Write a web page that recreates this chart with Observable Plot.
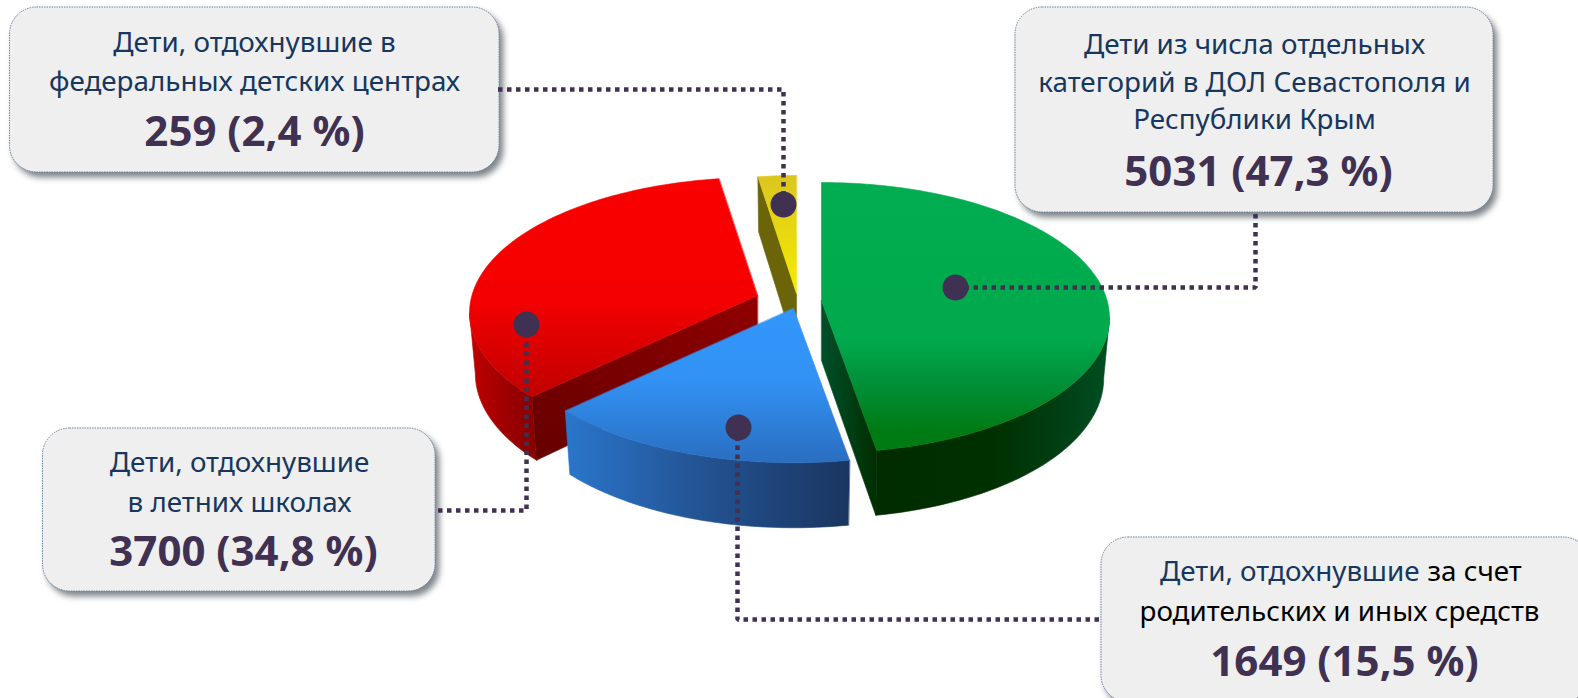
<!DOCTYPE html>
<html lang="ru">
<head>
<meta charset="utf-8">
<title>Дети, отдохнувшие</title>
<script src="https://cdn.jsdelivr.net/npm/d3@7"></script>
<script src="https://cdn.jsdelivr.net/npm/@observablehq/plot@0.6"></script>
<style>
html,body{margin:0;padding:0;background:#fff;overflow:hidden}
svg{display:block}
g[aria-label="rect"] rect{filter:drop-shadow(4px 5px 3px rgba(40,50,60,.6))}
</style>
</head>
<body>
<div id="chart"></div>
<script>
// ---------- data ----------
const categories = ["Отдельные категории в ДОЛ", "Родительские и иные средства", "Летние школы", "Федеральные детские центры"];
const sliceNames = ["green", "blue", "red", "yellow"];
const values = [5031, 1649, 3700, 259];

const boxX1 = [9.5, 1015, 42.5, 1101];
const boxX2 = [499, 1493, 435, 1590];
const boxY1 = [7, 7, 428, 537];
const boxY2 = [172, 212, 591, 702];

const labelText = [
  "Дети, отдохнувшие в", "федеральных детских центрах", "259 (2,4 %)",
  "Дети из числа отдельных", "категорий в ДОЛ Севастополя и", "Республики Крым", "5031 (47,3 %)",
  "Дети, отдохнувшие", "в летних школах", "3700 (34,8 %)",
  "Дети, отдохнувшие", "за счет", "родительских и иных средств", "1649 (15,5 %)"
];
const labelX = [254, 254, 254, 1254, 1254, 1254, 1258, 239, 239, 243, 1419, 1427, 1339, 1344];
const labelY = [43, 82, 132, 45, 83, 120, 172, 463, 503, 552, 572, 572, 612, 662];
const labelKind = ["t", "t", "b", "t", "t", "t", "b", "t", "t", "b", "e", "s", "k", "b"];

const dotX = [955, 738, 526, 783];
const dotY = [287, 427, 324, 204];
const leaderX = [[955, 1255, 1255], [737, 737, 1100], [526, 526, 433], [783, 783, 497]];
const leaderY = [[287, 287, 213], [427, 619, 619], [324, 510, 510], [204, 89, 89]];

// ---------- pie projection ----------
const sliceApex = {green: [821, 300], blue: [793, 308], red: [757, 295], yellow: [796, 293]};
const sliceScale = {green: 1, blue: 1.012, red: 1, yellow: 1};
const rx = 285.6, ry = 133, persp = 0.1275;
const total = d3.sum(values);
const starts = d3.cumsum([0, ...values]).map(v => v / total * 2 * Math.PI);
const widestRight = Math.acos(-persp), widestLeft = 2 * Math.PI - widestRight;

function project(i, t, lower) {
  const name = sliceNames[i], c = sliceApex[name], k = sliceScale[name];
  const u = Math.sin(t), v = Math.cos(t), s = k / (1 + persp * v);
  return lower
    ? {x: c[0] + rx * u * s * 0.98, y: c[1] - ry * v * s + 60 - 5 * v}
    : {x: c[0] + rx * u * s, y: c[1] - ry * v * s};
}
function arcAngles(a, b) {
  const n = Math.max(2, Math.ceil((b - a) / 0.02));
  return d3.range(n + 1).map(i => a + (b - a) * i / n);
}
function topFace(i) {
  const c = sliceApex[sliceNames[i]];
  return [{x: c[0], y: c[1]}, ...arcAngles(starts[i], starts[i + 1]).map(t => project(i, t, false))];
}
// outer wall: only the part of the rim that faces the viewer, up to the silhouette
function rimFace(i) {
  const a = arcAngles(Math.max(starts[i], widestRight), Math.min(starts[i + 1], widestLeft));
  return [...a.map(t => project(i, t, false)), ...a.slice().reverse().map(t => project(i, t, true))];
}
function cutFace(i, t) {
  const c = sliceApex[sliceNames[i]];
  return [{x: c[0], y: c[1]}, project(i, t, false), project(i, t, true), {x: c[0], y: c[1] + 60}];
}
function poly(points, fill) {
  return Plot.line(points, {x: "x", y: "y", fill, stroke: fill, strokeWidth: 0.6, strokeLinejoin: "miter", curve: "linear-closed"});
}

const gradients = `
<linearGradient id="gTop" x1="0" y1="0" x2="0" y2="1"><stop offset="0" stop-color="#00ad50"/><stop offset=".58" stop-color="#00aa4d"/><stop offset=".74" stop-color="#00913a"/><stop offset=".93" stop-color="#007a12"/><stop offset="1" stop-color="#007a12"/></linearGradient>
<linearGradient id="gRim" x1="0" y1="0" x2="1" y2="0"><stop offset="0" stop-color="#002c00"/><stop offset=".5" stop-color="#003000"/><stop offset=".8" stop-color="#004015"/><stop offset="1" stop-color="#004f22"/></linearGradient>
<linearGradient id="gCut" x1="0" y1="0" x2="1" y2="0"><stop offset="0" stop-color="#00502a"/><stop offset="1" stop-color="#002e00"/></linearGradient>
<linearGradient id="bTop" x1="0" y1="0" x2="0" y2="1"><stop offset="0" stop-color="#3296fb"/><stop offset=".45" stop-color="#3292f5"/><stop offset="1" stop-color="#2a6ec0"/></linearGradient>
<linearGradient id="bRim" x1="0" y1="0" x2="1" y2="0"><stop offset="0" stop-color="#2a76cc"/><stop offset=".45" stop-color="#245596"/><stop offset="1" stop-color="#1a3560"/></linearGradient>
<linearGradient id="rTop" x1="0" y1="0" x2="0" y2="1"><stop offset="0" stop-color="#fa0000"/><stop offset=".55" stop-color="#f50000"/><stop offset="1" stop-color="#c00000"/></linearGradient>
<linearGradient id="rRim" x1="0" y1="0" x2="1" y2="0"><stop offset="0" stop-color="#c00000"/><stop offset=".5" stop-color="#a00000"/><stop offset="1" stop-color="#880000"/></linearGradient>
<linearGradient id="rCut" x1="0" y1="1" x2="1" y2="0"><stop offset="0" stop-color="#660000"/><stop offset="1" stop-color="#900000"/></linearGradient>
<linearGradient id="yTop" x1="0" y1="0" x2="0" y2="1"><stop offset="0" stop-color="#dcc61f"/><stop offset="1" stop-color="#f4ec00"/></linearGradient>`;

const defsMark = () => d3.create("svg:defs").html(gradients).node();

const labels = labelText.map((text, i) => ({text, x: labelX[i], y: labelY[i], kind: labelKind[i]}));
const textMark = (kind, opts) => Plot.text(labels.filter(d => d.kind === kind), {
  x: "x", y: "y", text: "text", lineAnchor: "middle", fontFamily: "Noto Sans", ...opts
});
const boxes = boxX1.map((x1, i) => ({x1, x2: boxX2[i], y1: boxY1[i], y2: boxY2[i]}));
const leaders = leaderX.flatMap((xs, i) => xs.map((x, j) => ({id: i, x, y: leaderY[i][j]})));
const dots = dotX.map((x, i) => ({x, y: dotY[i]}));

const chart = Plot.plot({
  width: 1578, height: 698, margin: 0,
  x: {domain: [0, 1578], range: [0, 1578], axis: null},
  y: {domain: [0, 698], range: [0, 698], axis: null},
  style: {background: "#fff"},
  marks: [
    defsMark,
    Plot.rect(boxes, {x1: "x1", x2: "x2", y1: "y1", y2: "y2", rx: 27, fill: "#efefef", stroke: "#6f86a0", strokeWidth: 1, strokeDasharray: "1.5,1"}),
    // yellow
    poly(cutFace(3, starts[3]), "#6b6408"),
    poly(topFace(3), "url(#yTop)"),
    // red
    poly(rimFace(2), "url(#rRim)"),
    poly(cutFace(2, starts[2]), "url(#rCut)"),
    poly(topFace(2), "url(#rTop)"),
    // green
    poly(rimFace(0), "url(#gRim)"),
    poly(cutFace(0, starts[1]), "url(#gCut)"),
    poly(topFace(0), "url(#gTop)"),
    // blue
    poly(rimFace(1), "url(#bRim)"),
    poly(topFace(1), "url(#bTop)"),
    // leaders and dots
    Plot.line(leaders, {x: "x", y: "y", z: "id", stroke: "#403152", strokeWidth: 4.5, strokeDasharray: "4.5,4.5", strokeLinejoin: "miter", strokeLinecap: "butt"}),
    Plot.dot(dots, {x: "x", y: "y", r: 13, fill: "#403152", stroke: "none"}),
    // labels
    textMark("t", {fontSize: 27.8, fill: "#17375e", textAnchor: "middle"}),
    textMark("e", {fontSize: 27.8, fill: "#17375e", textAnchor: "end"}),
    textMark("s", {fontSize: 27.8, fill: "#000", textAnchor: "start"}),
    textMark("k", {fontSize: 27.8, fill: "#000", textAnchor: "middle"}),
    textMark("b", {fontSize: 42, fontWeight: 700, fill: "#403152", textAnchor: "middle"})
  ]
});
document.getElementById("chart").append(chart);
</script>
</body>
</html>
